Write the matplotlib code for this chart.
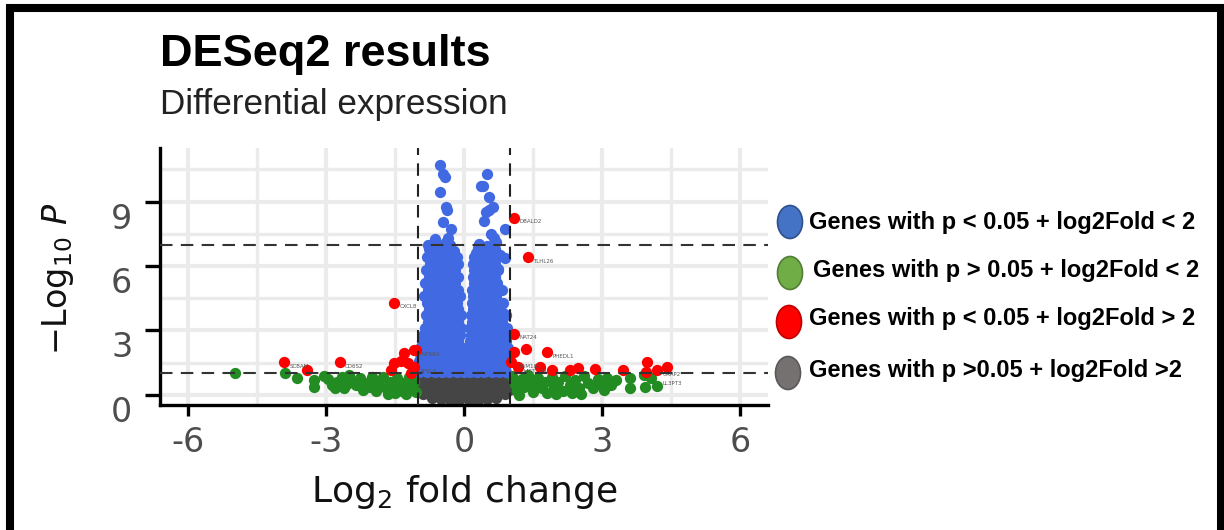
import matplotlib
matplotlib.use("Agg")
import matplotlib.pyplot as plt
from matplotlib.patches import Ellipse, Rectangle
from matplotlib.transforms import ScaledTranslation

plt.rcParams['font.family'] = ['DejaVu Sans']
plt.rcParams['mathtext.fontset'] = 'dejavusans'
plt.rcParams['axes.unicode_minus'] = False

# blue: p < 0.05, |log2FC| < 1  (two columns)
blue_x = [
    # sparse top, left column
    -0.52, -0.45, -0.42, -0.52, -0.39, -0.36, -0.45, -0.28, -0.35, -0.75, -0.40, -0.62,
    # sparse top, right column
    0.50, 0.37, 0.42, 0.54, 0.62, 0.55, 0.47, 0.43, 0.90, 0.58, 0.65, 0.69, 0.32, 0.90, 0.73, 0.85,
    # dense left
    -0.78, -0.62, -0.45, -0.30,
    -0.72, -0.55, -0.40, -0.22,
    -0.80, -0.64, -0.48, -0.33, -0.16,
    -0.74, -0.58, -0.42, -0.27, -0.12,
    -0.82, -0.66, -0.50, -0.35, -0.19,
    -0.76, -0.60, -0.44, -0.29, -0.12,
    -0.84, -0.68, -0.52, -0.36, -0.20,
    -0.78, -0.62, -0.46, -0.30, -0.14,
    -0.86, -0.70, -0.54, -0.38, -0.22, -0.08,
    -0.80, -0.64, -0.48, -0.32, -0.16,
    -0.76, -0.60, -0.44, -0.28, -0.12,
    -0.82, -0.66, -0.50, -0.34, -0.18, -0.06,
    -0.78, -0.62, -0.46, -0.30, -0.14,
    -0.84, -0.68, -0.52, -0.36, -0.20, -0.06,
    -0.88, -0.72, -0.56, -0.40, -0.24, -0.08,
    -0.92, -0.76, -0.60, -0.44, -0.28, -0.12,
    -0.95, -0.80, -0.64, -0.48, -0.32, -0.16, -0.02,
    -0.96, -0.82, -0.66, -0.50, -0.34, -0.18, -0.04,
    -0.97, -0.84, -0.68, -0.52, -0.36, -0.20, -0.05,
    -0.98, -0.83, -0.67, -0.51, -0.35, -0.19, -0.03,
    -0.97, -0.80, -0.64, -0.48, -0.32, -0.16, 0.00,
    # dense right
    0.30, 0.50, 0.68,
    0.25, 0.42, 0.60, 0.78,
    0.22, 0.38, 0.55, 0.72,
    0.20, 0.36, 0.52, 0.68,
    0.22, 0.40, 0.56, 0.74,
    0.19, 0.35, 0.52, 0.68,
    0.21, 0.38, 0.55, 0.72,
    0.18, 0.34, 0.50, 0.66, 0.82,
    0.20, 0.37, 0.53, 0.70,
    0.17, 0.33, 0.50, 0.66, 0.84,
    0.19, 0.36, 0.52, 0.68,
    0.15, 0.32, 0.48, 0.64, 0.80, 0.92,
    0.18, 0.34, 0.50, 0.66, 0.82,
    0.14, 0.30, 0.46, 0.62, 0.78, 0.94,
    0.16, 0.32, 0.48, 0.64, 0.80, 0.95,
    0.12, 0.28, 0.44, 0.60, 0.76, 0.92,
    0.14, 0.30, 0.46, 0.62, 0.78, 0.95,
    0.11, 0.27, 0.43, 0.59, 0.75, 0.91,
    0.13, 0.29, 0.45, 0.61, 0.77, 0.93,
    0.10, 0.26, 0.42, 0.58, 0.74, 0.90,
    0.12, 0.28, 0.44, 0.60, 0.76, 0.92,
]
blue_y = [
    10.7, 10.3, 10.15, 9.45, 8.75, 8.6, 8.06, 7.74, 7.3, 6.8, 7.1, 7.25,
    10.3, 9.75, 9.75, 9.2, 8.75, 8.6, 8.5, 8.1, 7.74, 7.5, 7.3, 7.1, 7.05, 6.36, 5.85, 3.8,
    7.0, 7.0, 7.0, 7.0,
    6.7, 6.7, 6.7, 6.7,
    6.4, 6.4, 6.4, 6.4, 6.4,
    6.1, 6.1, 6.1, 6.1, 6.1,
    5.8, 5.8, 5.8, 5.8, 5.8,
    5.5, 5.5, 5.5, 5.5, 5.5,
    5.2, 5.2, 5.2, 5.2, 5.2,
    4.9, 4.9, 4.9, 4.9, 4.9,
    4.6, 4.6, 4.6, 4.6, 4.6, 4.6,
    4.3, 4.3, 4.3, 4.3, 4.3,
    4.0, 4.0, 4.0, 4.0, 4.0,
    3.7, 3.7, 3.7, 3.7, 3.7, 3.7,
    3.4, 3.4, 3.4, 3.4, 3.4,
    3.1, 3.1, 3.1, 3.1, 3.1, 3.1,
    2.8, 2.8, 2.8, 2.8, 2.8, 2.8,
    2.5, 2.5, 2.5, 2.5, 2.5, 2.5,
    2.2, 2.2, 2.2, 2.2, 2.2, 2.2, 2.2,
    1.9, 1.9, 1.9, 1.9, 1.9, 1.9, 1.9,
    1.6, 1.6, 1.6, 1.6, 1.6, 1.6, 1.6,
    1.3, 1.3, 1.3, 1.3, 1.3, 1.3, 1.3,
    1.05, 1.05, 1.05, 1.05, 1.05, 1.05, 1.05,
    6.85, 6.95, 6.8,
    6.6, 6.7, 6.65, 6.5,
    6.4, 6.4, 6.4, 6.4,
    6.1, 6.1, 6.1, 6.1,
    5.8, 5.8, 5.8, 5.8,
    5.5, 5.5, 5.5, 5.5,
    5.2, 5.2, 5.2, 5.2,
    4.9, 4.9, 4.9, 4.9, 4.9,
    4.6, 4.6, 4.6, 4.6,
    4.3, 4.3, 4.3, 4.3, 4.3,
    4.0, 4.0, 4.0, 4.0,
    3.7, 3.7, 3.7, 3.7, 3.7, 3.7,
    3.4, 3.4, 3.4, 3.4, 3.4,
    3.1, 3.1, 3.1, 3.1, 3.1, 3.1,
    2.8, 2.8, 2.8, 2.8, 2.8, 2.8,
    2.5, 2.5, 2.5, 2.5, 2.5, 2.5,
    2.2, 2.2, 2.2, 2.2, 2.2, 2.2,
    1.9, 1.9, 1.9, 1.9, 1.9, 1.9,
    1.6, 1.6, 1.6, 1.6, 1.6, 1.6,
    1.3, 1.3, 1.3, 1.3, 1.3, 1.3,
    1.05, 1.05, 1.05, 1.05, 1.05, 1.05,
]

# grey: not significant, |log2FC| < 1
grey_x = [
    -0.95, -0.80, -0.65, -0.50, -0.35, -0.20, -0.05, 0.10, 0.25, 0.40, 0.55, 0.70, 0.85, 0.97,
    -0.92, -0.77, -0.62, -0.47, -0.32, -0.17, -0.02, 0.13, 0.28, 0.43, 0.58, 0.73, 0.88, 0.98,
    -0.95, -0.80, -0.65, -0.50, -0.35, -0.20, -0.05, 0.10, 0.25, 0.40, 0.55, 0.70, 0.85, 0.97,
    -0.90, -0.75, -0.60, -0.45, -0.30, -0.15, 0.00, 0.15, 0.30, 0.45, 0.60, 0.75, 0.90,
    -0.70, -0.50, -0.30, -0.10, 0.10, 0.30, 0.50, 0.70,
]
grey_y = [
    0.85, 0.85, 0.85, 0.85, 0.85, 0.85, 0.85, 0.85, 0.85, 0.85, 0.85, 0.85, 0.85, 0.85,
    0.55, 0.55, 0.55, 0.55, 0.55, 0.55, 0.55, 0.55, 0.55, 0.55, 0.55, 0.55, 0.55, 0.55,
    0.25, 0.25, 0.25, 0.25, 0.25, 0.25, 0.25, 0.25, 0.25, 0.25, 0.25, 0.25, 0.25, 0.25,
    0.05, 0.02, 0.0, -0.03, -0.05, -0.06, -0.07, -0.06, -0.05, -0.03, 0.0, 0.02, 0.05,
    -0.15, -0.2, -0.24, -0.26, -0.26, -0.24, -0.2, -0.15,
]

# green: not significant, |log2FC| > 1
green_x = [
    -4.97, -3.89, -3.63, -3.26, -3.26, -3.05, -2.95, -2.87, -2.75, -2.65, -2.55, -2.45,
    -2.35, -2.25, -2.15, -2.05, -1.95, -1.85, -1.75, -1.70, -1.60, -1.50, -1.45, -1.35,
    -1.30, -1.20, -1.15, -1.08, -1.05, -1.25, -1.50, -2.00, -2.50, -2.80, -1.90, -2.20,
    -1.65, -1.40, -1.10, -2.60,
    1.05, 1.10, 1.15, 1.25, 1.30, 1.40, 1.45, 1.50, 1.60, 1.65, 1.75, 1.80, 1.90, 1.95,
    2.05, 2.15, 2.20, 2.30, 2.40, 2.50, 2.60, 2.70, 2.80, 2.90, 3.00, 3.10, 3.20, 3.30,
    3.60, 3.60, 3.93, 4.19, 3.90, 4.05, 2.00, 1.20, 2.55, 1.35, 1.70, 2.35, 3.05,
]
green_y = [
    1.00, 1.00, 0.78, 0.69, 0.35, 0.90, 0.75, 0.45, 0.60, 0.85, 0.50, 0.70,
    0.45, 0.80, 0.55, 0.35, 0.70, 0.45, 0.85, 0.30, 0.60, 0.40, 0.80, 0.20,
    0.55, 0.85, 0.35, 0.60, 0.15, 0.05, 0.10, 0.85, 0.95, 0.30, 0.20, 0.25,
    0.05, 0.50, 0.90, 0.30,
    0.90, 0.50, 0.20, 0.75, 0.35, 0.95, 0.55, 0.15, 0.80, 0.40, 0.60, 0.10, 0.85, 0.35,
    0.60, 0.20, 0.90, 0.45, 0.70, 0.30, 0.90, 0.55, 0.30, 0.75, 0.50, 0.80, 0.45, 0.70,
    0.80, 0.32, 0.37, 0.41, 0.95, 0.80, 0.05, 0.00, 0.05, 0.60, 0.30, 0.10, 0.25,
]

# red: p < 0.05, |log2FC| > 1
red_x = [-1.51, -3.91, -3.41, -2.70, -1.30, -1.08, -1.51, -1.36, -1.21, -1.58, -1.08,
         -1.14, -1.04,
         1.08, 1.38, 1.08, 1.34, 1.81, 1.08, 1.02, 1.17, 1.66, 1.92, 2.31, 2.48, 2.85,
         3.46, 3.97, 4.19, 4.41, 3.95]
red_y = [4.28, 1.52, 1.15, 1.52, 1.94, 2.07, 1.47, 1.60, 1.47, 1.15, 1.29,
         1.00, 2.07,
         8.25, 6.40, 2.86, 2.12, 1.98, 1.98, 1.52, 1.29, 1.29, 1.15, 1.15, 1.24, 1.20,
         1.15, 1.52, 1.15, 1.29, 1.05]

# gene labels next to some red points
label_names = ['DBALD2', 'TLHL26', 'CXCL8', 'NAT24', 'PHEDL1', 'FAM180', 'HIST1H4',
               'NTRBA', 'AFSL3', 'SCBAM', 'CD6S2', 'GRAP2', 'LL3PT3']
label_x = [1.08, 1.38, -1.51, 1.08, 1.81, 1.08, 1.17, -1.04, -1.08, -3.91, -2.70, 4.19, 4.19]
label_y = [8.25, 6.40, 4.28, 2.86, 1.98, 1.52, 1.29, 2.07, 1.29, 1.52, 1.52, 1.15, 0.70]

x_ticks = [-6, -3, 0, 3, 6]
y_ticks = [0, 3, 6, 9]
fc_cut = 1.0
p_cuts = [1.0, 7.0]

legend_labels = ['Genes with p < 0.05 + log2Fold < 2',
                 'Genes with p > 0.05 + log2Fold < 2',
                 'Genes with p < 0.05 + log2Fold > 2',
                 'Genes with p >0.05 + log2Fold >2']
legend_colors = ['#4472C4', '#70AD47', '#FF0000', '#767171']
legend_edges = ['#2F528F', '#507E32', '#C00000', '#595959']

W, H = 1224, 530
fig = plt.figure(figsize=(W / 100, H / 100), dpi=100)
ax = fig.add_axes([160 / W, 1 - 405 / H, (768 - 160) / W, (405 - 148) / H])

ax.set_xlim(-6.6, 6.6)
ax.set_ylim(-0.47, 11.5)
ax.set_xticks([-4.5, -1.5, 1.5, 4.5], minor=True)
ax.set_yticks([1.5, 4.5, 7.5, 10.5], minor=True)
ax.set_xticks(x_ticks)
ax.set_yticks(y_ticks)
ax.set_xticklabels([str(t) for t in x_ticks])
ax.set_yticklabels([str(t) for t in y_ticks])
ax.grid(which='major', color='#EBEBEB', lw=3.0)
ax.grid(which='minor', color='#EBEBEB', lw=2.4)
ax.set_axisbelow(True)

ms = 66
ax.scatter(grey_x, grey_y, s=ms, c='#454545', lw=0, zorder=2)
ax.scatter(green_x, green_y, s=ms, c='#228B22', lw=0, zorder=2)
ax.scatter(blue_x, blue_y, s=ms, c='#4169E1', lw=0, zorder=3)
ax.scatter(red_x, red_y, s=ms, c='#FF0000', lw=0, zorder=3)

for name, lx, ly in zip(label_names, label_x, label_y):
    ax.text(lx + 0.12, ly - 0.25, name, fontsize=4, color='#555555', zorder=4)

for v in (-fc_cut, fc_cut):
    ax.axvline(v, color='#222222', lw=1.5, ls=(0, (6, 4)), zorder=5)
for h in p_cuts:
    ax.axhline(h, color='#333333', lw=1.5, ls=(0, (6, 4)), zorder=5)

for side in ['top', 'right']:
    ax.spines[side].set_visible(False)
for side in ['left', 'bottom']:
    ax.spines[side].set_linewidth(2.4)
    ax.spines[side].set_color('black')
ax.tick_params(which='major', width=2.4, color='black',
               labelsize=24, labelcolor='#4D4D4D')
ax.tick_params(axis='x', which='major', length=8, pad=7)
ax.tick_params(axis='y', which='major', length=11, pad=9)
ax.tick_params(which='minor', length=0)
# the y labels sit a little below their ticks in the original
for lab in ax.get_yticklabels():
    lab.set_transform(lab.get_transform() + ScaledTranslation(0, -0.14, fig.dpi_scale_trans))

ax.set_xlabel(r'Log$_2$ fold change', fontsize=26, color='#111111')
ax.xaxis.set_label_coords(0.5, (405 - 492) / 257)
ax.xaxis.label.set_va('center')
ax.set_ylabel(r'$-\mathrm{Log}_{10}\ \mathit{P}$', fontsize=24, color='#111111')
ax.yaxis.set_label_coords((58 - 160) / 608, 0.49)
ax.yaxis.label.set_va('center')

fig.text(160 / W, 1 - 66 / H, 'DESeq2 results', fontsize=32.5, fontweight='bold',
         va='baseline', ha='left', family='Liberation Sans')
fig.text(160 / W, 1 - 114 / H, 'Differential expression', fontsize=25.3,
         va='baseline', ha='left', color='#222222', family='Liberation Sans')

# custom legend with ellipses
ell_x = [790, 790, 789, 788]
ell_y = [222, 273, 322, 373]
text_x = [809, 813, 809, 809]
text_y = [223, 270, 318, 370]
for i in range(4):
    fig.add_artist(Ellipse((ell_x[i] / W, 1 - ell_y[i] / H), 25 / W, 33 / H,
                           transform=fig.transFigure, fc=legend_colors[i],
                           ec=legend_edges[i], lw=1.2))
    fig.text(text_x[i] / W, 1 - text_y[i] / H, legend_labels[i], fontsize=17,
             fontweight='bold', va='center', ha='left', family='Liberation Sans')

# black frame around the picture
fig.add_artist(Rectangle((10 / W, -0.1), (1220.5 - 10) / W, (H - 8) / H + 0.1,
                         transform=fig.transFigure, fill=False, lw=5.8, ec='black'))

fig.savefig('out.png', dpi=100)
